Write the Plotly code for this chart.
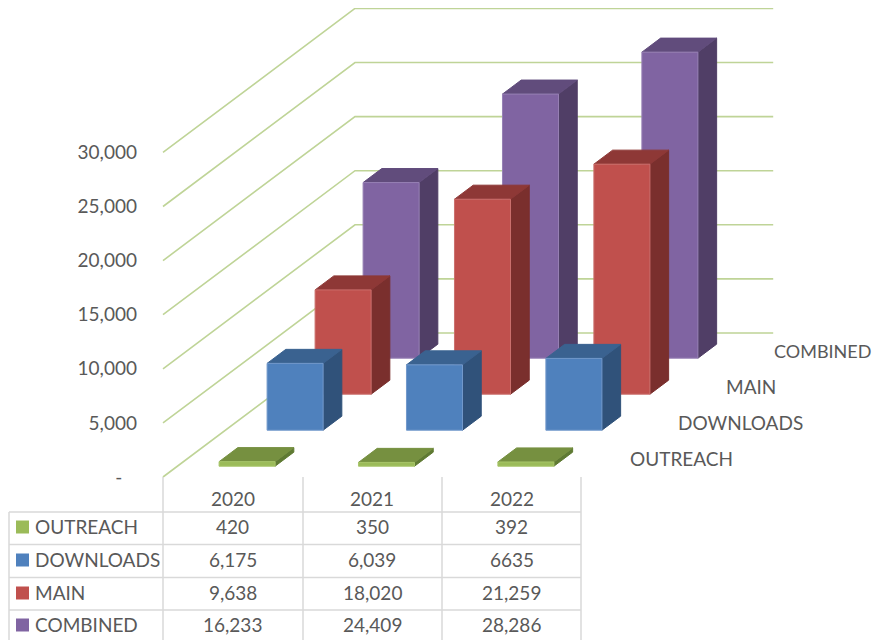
import plotly.graph_objects as go

years = ['2020', '2021', '2022']
series_names = ['OUTREACH', 'DOWNLOADS', 'MAIN', 'COMBINED']
outreach = [420, 350, 392]
downloads = [6175, 6039, 6635]
main = [9638, 18020, 21259]
combined = [16233, 24409, 28286]
table_text = [
    ['420', '350', '392'],
    ['6,175', '6,039', '6635'],
    ['9,638', '18,020', '21,259'],
    ['16,233', '24,409', '28,286'],
]
value_ticks = [0, 5000, 10000, 15000, 20000, 25000, 30000]
tick_labels = ['-\u00a0\u00a0\u00a0', '5,000', '10,000', '15,000', '20,000', '25,000', '30,000']

# front, side, top colours for each series
front_colors = ['#9BBB59', '#4F81BD', '#C0504D', '#8064A2']
side_colors = ['#5F7A33', '#30527A', '#7A2F2D', '#503E66']
top_colors = ['#769040', '#3A6290', '#8E3836', '#614C7C']
edge_colors = ['#A8C56A', '#7299CB', '#CB706D', '#9780B4']

FONT = 'Lato'
FONT_SIZE = 19
TEXT = '#595959'
GRID = '#BFD497'
TABLE = '#D9D9D9'

# the page keeps its 8px body margin, so the figure is 8px smaller than the window
PAGE = 8
W, H = 880 - PAGE, 640 - PAGE
CAT_PX = 139.4      # px per category
VAL_PX = 54.1 / 5000  # px per unit of value
ORIGIN_X, ORIGIN_Y = 163, 477
LEFT_PX = 138       # where the plot area starts, tick labels sit left of it

# oblique projection: one depth slot moves right and up
DEPTH_X = 48 / CAT_PX
DEPTH_V = 36 / VAL_PX
BAR_W = 0.402
BAR_GAP = (1 - BAR_W) / 2
BAR_D = 0.39
D_GAP = 0.3


def px(cat, depth):
    return cat + depth * DEPTH_X


def py(value, depth):
    return value + depth * DEPTH_V


def poly(fig, points, fill, line):
    fig.add_trace(go.Scatter(
        x=[px(c, d) for c, v, d in points] + [px(*points[0][::2])],
        y=[py(v, d) for c, v, d in points] + [py(*points[0][1:])],
        mode='lines', fill='toself', fillcolor=fill,
        line=dict(color=line, width=1), hoverinfo='skip', showlegend=False))


def paper_x(x):
    return (x - PAGE) / W


def paper_y(y):
    return 1 - (y - PAGE) / H


fig = go.Figure()

# walls
for v in value_ticks:
    fig.add_trace(go.Scatter(
        x=[px(0, 0), px(0, 4), px(3, 4)], y=[py(v, 0), py(v, 4), py(v, 4)],
        mode='lines', line=dict(color=GRID, width=1.6),
        hoverinfo='skip', showlegend=False))

# bars, back series first so the front ones paint over them
all_series = [outreach, downloads, main, combined]
for j in reversed(range(4)):
    d0 = j + D_GAP
    d1 = d0 + BAR_D
    for i, v in enumerate(all_series[j]):
        c0 = i + BAR_GAP
        c1 = c0 + BAR_W
        poly(fig, [(c1, 0, d0), (c1, 0, d1), (c1, v, d1), (c1, v, d0)], side_colors[j], side_colors[j])
        poly(fig, [(c0, v, d0), (c1, v, d0), (c1, v, d1), (c0, v, d1)], top_colors[j], top_colors[j])
        poly(fig, [(c0, 0, d0), (c1, 0, d0), (c1, v, d0), (c0, v, d0)], front_colors[j], edge_colors[j])

annotations = []


def add_text(x, y, text, anchor='center', size=FONT_SIZE):
    # annotations carry about 2px of padding on the anchored side
    if anchor == 'left':
        x -= 2
    annotations.append(dict(
        x=paper_x(x), y=paper_y(y - 1), xref='paper', yref='paper', text=text,
        showarrow=False, xanchor=anchor, yanchor='middle',
        font=dict(family=FONT, size=size, color=TEXT)))


# series names along the depth axis, the last one a bit smaller so it stays in the picture
for j, name in enumerate(series_names):
    add_text(630 + 48 * j, 459 - 35.7 * j, name, 'left', 18 if j == 3 else FONT_SIZE)

# data table
col_lines = [163, 303, 442, 581]
row_lines = [512, 544.5, 577.5, 610]
row_mid = [527, 560, 593, 625]
shapes = []
for x in col_lines:
    shapes.append(dict(type='line', xref='paper', yref='paper', x0=paper_x(x), x1=paper_x(x),
                       y0=paper_y(477), y1=0, line=dict(color=TABLE, width=1.5)))
shapes.append(dict(type='line', xref='paper', yref='paper', x0=paper_x(9), x1=paper_x(9),
                   y0=paper_y(512), y1=0, line=dict(color=TABLE, width=1.5)))
for y in row_lines:
    shapes.append(dict(type='line', xref='paper', yref='paper', x0=paper_x(9), x1=paper_x(581),
                       y0=paper_y(y), y1=paper_y(y), line=dict(color=TABLE, width=1.5)))

for i, year in enumerate(years):
    add_text(233 + CAT_PX * i, 499, year)
for j, name in enumerate(series_names):
    shapes.append(dict(type='rect', xref='paper', yref='paper', x0=paper_x(16), x1=paper_x(29),
                       y0=paper_y(row_mid[j] + 6.5), y1=paper_y(row_mid[j] - 6.5),
                       fillcolor=front_colors[j], line=dict(width=0)))
    add_text(35, row_mid[j], name, 'left')
    for i in range(3):
        add_text(233 + CAT_PX * i, row_mid[j], table_text[j][i])

fig.update_layout(
    width=W, height=H, margin=dict(l=0, r=0, t=0, b=0),
    plot_bgcolor='white', paper_bgcolor='white',
    showlegend=False, shapes=shapes, annotations=annotations,
    xaxis=dict(domain=[(LEFT_PX - PAGE) / W, 1], visible=False,
               range=[(LEFT_PX - ORIGIN_X) / CAT_PX, (880 - ORIGIN_X) / CAT_PX]),
    yaxis=dict(domain=[0, 1], range=[(ORIGIN_Y - 640) / VAL_PX, (ORIGIN_Y - PAGE) / VAL_PX],
               tickvals=value_ticks, ticktext=tick_labels, showgrid=False,
               zeroline=False, showline=False, ticks='',
               tickfont=dict(family=FONT, size=FONT_SIZE, color=TEXT)),
)

fig.write_html("out.html")
